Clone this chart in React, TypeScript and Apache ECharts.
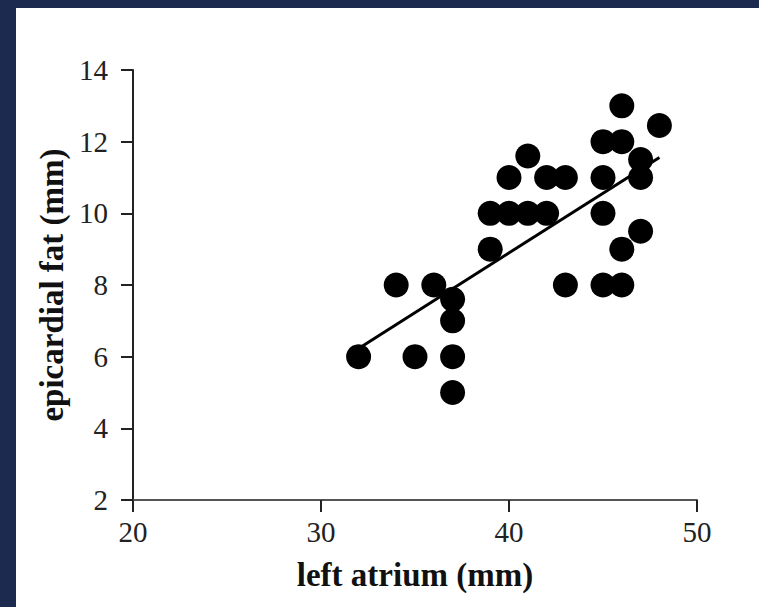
import React, { useEffect, useRef } from "react";
import * as echarts from "echarts";

const leftAtrium = [32, 34, 35, 36, 37, 37, 37, 37, 39, 39, 40, 41, 42, 40, 41, 42, 43, 43, 45, 46, 45, 45, 45, 46, 46, 46, 47, 47, 47, 48];
const epicardialFat = [6, 8, 6, 8, 7.6, 7, 6, 5, 9, 10, 10, 10, 10, 11, 11.6, 11, 11, 8, 8, 8, 10, 11, 12, 12, 13, 9, 9.5, 11.5, 11, 12.45];
const fitX = [32, 48];
const fitY = [6.23, 11.56];
const xTicks = [20, 30, 40, 50];
const yTicks = [2, 4, 6, 8, 10, 12, 14];

const SERIF = "'Liberation Serif', 'Times New Roman', serif";

export default function App() {
  const ref = useRef<HTMLDivElement>(null);
  useEffect(() => {
    if (!ref.current) return;
    const chart = echarts.init(ref.current, null, { renderer: "svg" });
    const points = leftAtrium.map((x, i) => [x, epicardialFat[i]]);
    const fit = fitX.map((x, i) => [x, fitY[i]]);
    chart.setOption({
      animation: false,
      backgroundColor: "#ffffff",
      grid: { left: 117, top: 62, width: 564, height: 430, containLabel: false },
      xAxis: {
        type: "value",
        min: xTicks[0],
        max: xTicks[xTicks.length - 1],
        interval: 10,
        name: "left atrium (mm)",
        nameLocation: "middle",
        nameGap: 58,
        nameTextStyle: { fontFamily: SERIF, fontWeight: "bold", fontSize: 33, color: "#111" },
        axisLine: { show: true, lineStyle: { color: "#555", width: 2 } },
        axisTick: { show: true, inside: false, length: 12, lineStyle: { color: "#222", width: 2 } },
        axisLabel: { margin: 17, fontFamily: SERIF, fontSize: 29, color: "#222" },
        splitLine: { show: false },
      },
      yAxis: {
        type: "value",
        min: yTicks[0],
        max: yTicks[yTicks.length - 1],
        interval: 2,
        name: "epicardial fat (mm)",
        nameLocation: "middle",
        nameGap: 62,
        nameTextStyle: { fontFamily: SERIF, fontWeight: "bold", fontSize: 33, color: "#111" },
        axisLine: { show: true, lineStyle: { color: "#222", width: 2 } },
        axisTick: { show: true, inside: false, length: 12, lineStyle: { color: "#222", width: 2 } },
        axisLabel: { margin: 25, fontFamily: SERIF, fontSize: 29, color: "#222" },
        splitLine: { show: false },
      },
      series: [
        {
          type: "scatter",
          data: points,
          symbol: "circle",
          symbolSize: 25,
          itemStyle: { color: "#000", opacity: 1 },
          emphasis: { disabled: true },
          z: 2,
        },
        {
          type: "line",
          data: fit,
          showSymbol: false,
          symbol: "none",
          lineStyle: { color: "#000", width: 3 },
          z: 3,
        },
      ],
    });
    return () => chart.dispose();
  }, []);
  return (
    <div style={{ position: "absolute", left: 0, top: 0, width: 759, height: 607, background: "#1b2a4e" }}>
      <div
        ref={ref}
        style={{ position: "absolute", left: 16, top: 8, width: 743, height: 599, background: "#ffffff" }}
      />
    </div>
  );
}
